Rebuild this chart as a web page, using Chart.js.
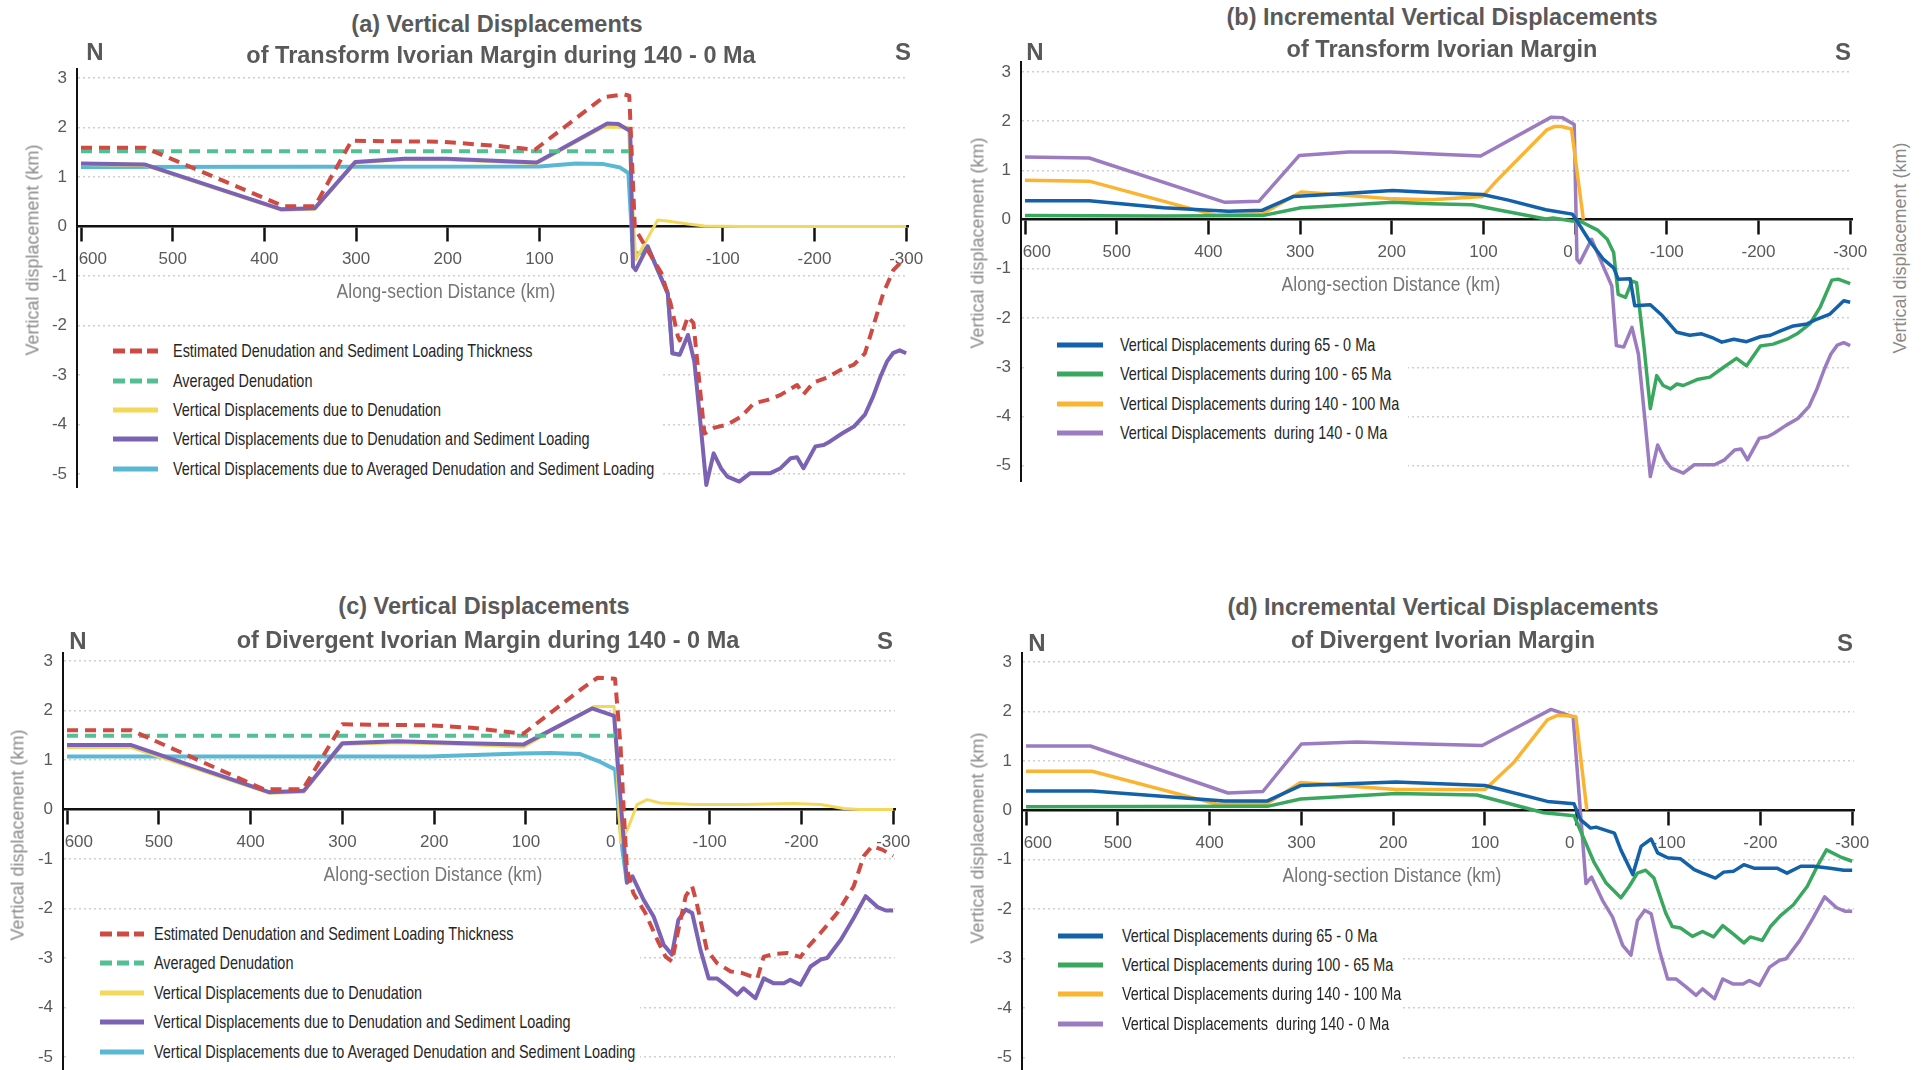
<!DOCTYPE html>
<html>
<head>
<meta charset="utf-8">
<script src="https://cdn.jsdelivr.net/npm/chart.js@4"></script>
<style>
  html, body { margin: 0; padding: 0; background: #fff; }
  #page { position: relative; width: 1923px; height: 1070px; overflow: hidden; background: #fff; }
  .plot { position: absolute; }
  .txt { position: absolute; transform: translate(-50%, -50%); white-space: pre; line-height: 1; }
  .title { font: bold 23.5px 'Liberation Sans', Arial, sans-serif; color: #595959; }
  .ns { font: bold 24px 'Liberation Sans', Arial, sans-serif; color: #595959; }
  .xtitle { font: 20px 'Liberation Sans', Arial, sans-serif; color: #767676; }
  .ytitle { font: 18px 'Liberation Sans', Arial, sans-serif; color: #8a8a8a; }
  .legbox { position: absolute; background: #fff; }
  .legline { position: absolute; height: 5px; transform: translateY(-50%); }
  .legtext { position: absolute; transform: translateY(-50%) scaleX(0.76); transform-origin: left center;
             white-space: pre; line-height: 1; font: 19px 'Liberation Sans', Arial, sans-serif; color: #262626; }
</style>
</head>
<body>
<div id="page"></div>
<script>
const TICK_FONT = "'Liberation Sans', Arial, sans-serif";

const xTicks = [600, 500, 400, 300, 200, 100, 0, -100, -200, -300];
const yTicks = [3, 2, 1, 0, -1, -2, -3, -4, -5];

const legendAC = [
  'Estimated Denudation and Sediment Loading Thickness',
  'Averaged Denudation',
  'Vertical Displacements due to Denudation',
  'Vertical Displacements due to Denudation and Sediment Loading',
  'Vertical Displacements due to Averaged Denudation and Sediment Loading'
];
const legendBD = [
  'Vertical Displacements during 65 - 0 Ma',
  'Vertical Displacements during 100 - 65 Ma',
  'Vertical Displacements during 140 - 100 Ma',
  'Vertical Displacements  during 140 - 0 Ma'
];

// (a) transform margin, [distance km, displacement km]
const tfThickness = [[600,1.59],[530,1.59],[379,0.41],[345,0.41],[305,1.73],[205,1.71],[142,1.62],[105,1.55],[30,2.61],[8,2.67],[2,2.64],[-4,0],[-7,-0.13],[-20,-0.54],[-33,-0.94],[-43,-1.55],[-51,-2.22],[-53,-2.3],[-62,-1.82],[-68,-1.95],[-80,-4.18],[-91,-4.06],[-105,-4.0],[-120,-3.84],[-134,-3.57],[-149,-3.5],[-163,-3.4],[-181,-3.2],[-188,-3.39],[-199,-3.15],[-214,-3.05],[-228,-2.9],[-243,-2.79],[-255,-2.56],[-264,-2.02],[-275,-1.35],[-286,-0.88],[-297,-0.67],[-300,-0.64]];
const tfAvgDenudation = [[600,1.52],[2,1.52]];
const tfDenudation = [[600,1.25],[530,1.23],[382,0.33],[345,0.35],[301,1.28],[247,1.35],[201,1.35],[142,1.3],[103,1.27],[30,2.01],[3,2.0],[-5,-0.67],[-29,0.13],[-43,0.1],[-62,0.05],[-80,0.01],[-120,0],[-300,0]];
const tfTotal = [[600,1.27],[530,1.25],[382,0.35],[345,0.37],[301,1.3],[247,1.37],[201,1.37],[142,1.32],[103,1.29],[26,2.08],[14,2.07],[1,1.93],[-2,-0.81],[-5,-0.88],[-18,-0.4],[-29,-0.88],[-40,-1.35],[-45,-2.56],[-53,-2.59],[-62,-2.19],[-69,-2.73],[-76,-4.04],[-82,-5.22],[-90,-4.58],[-98,-4.88],[-105,-5.05],[-118,-5.15],[-130,-4.98],[-141,-4.98],[-152,-4.98],[-163,-4.88],[-174,-4.68],[-181,-4.66],[-188,-4.88],[-201,-4.44],[-210,-4.41],[-217,-4.34],[-230,-4.18],[-243,-4.04],[-255,-3.8],[-264,-3.43],[-272,-3.03],[-279,-2.73],[-286,-2.55],[-293,-2.5],[-300,-2.56]];
const tfAvgLoading = [[600,1.2],[100,1.21],[60,1.27],[30,1.26],[12,1.19],[3,1.08],[-2,-0.54],[-11,-0.54],[-18,-0.4],[-29,-0.88],[-40,-1.35],[-45,-2.56],[-53,-2.59]];

// (b) transform margin increments
const tf65to0 = [[600,0.38],[530,0.38],[449,0.24],[399,0.19],[378,0.17],[341,0.19],[307,0.47],[261,0.52],[199,0.59],[157,0.55],[101,0.51],[74,0.4],[32,0.2],[3,0.11],[-2,-0.03],[-16,-0.44],[-31,-0.81],[-42,-0.98],[-47,-1.21],[-60,-1.2],[-65,-1.75],[-82,-1.73],[-95,-1.95],[-111,-2.29],[-125,-2.35],[-138,-2.32],[-151,-2.41],[-160,-2.49],[-173,-2.43],[-187,-2.48],[-202,-2.38],[-213,-2.35],[-224,-2.26],[-238,-2.16],[-253,-2.12],[-264,-2.02],[-278,-1.92],[-293,-1.65],[-300,-1.68]];
const tf100to65 = [[600,0.08],[449,0.07],[341,0.08],[299,0.24],[261,0.28],[199,0.35],[157,0.32],[112,0.3],[96,0.24],[32,0.01],[24,0.03],[3,-0.03],[-5,-0.03],[-25,-0.22],[-35,-0.4],[-42,-0.67],[-47,-1.52],[-55,-1.58],[-62,-1.25],[-67,-1.28],[-75,-2.56],[-82,-3.84],[-89,-3.17],[-96,-3.37],[-104,-3.44],[-111,-3.34],[-118,-3.37],[-133,-3.25],[-147,-3.2],[-162,-3.0],[-176,-2.82],[-187,-2.97],[-202,-2.57],[-216,-2.53],[-231,-2.43],[-242,-2.32],[-256,-2.12],[-267,-1.79],[-280,-1.23],[-287,-1.21],[-300,-1.3]];
const tf140to100 = [[600,0.8],[530,0.78],[399,0.12],[391,0.09],[341,0.12],[299,0.56],[261,0.51],[199,0.42],[157,0.4],[101,0.47],[86,0.78],[31,1.82],[22,1.89],[15,1.89],[4,1.84],[-9,0]];

// (c) divergent margin
const dvThickness = [[600,1.6],[530,1.6],[386,0.41],[343,0.41],[300,1.72],[206,1.7],[159,1.65],[103,1.53],[39,2.44],[22,2.66],[3,2.64],[-3,1.28],[-7,-0.2],[-10,-1.21],[-17,-1.69],[-30,-2.09],[-43,-2.63],[-52,-2.97],[-59,-3.07],[-66,-2.43],[-74,-1.75],[-81,-1.55],[-86,-1.89],[-97,-2.83],[-108,-3.1],[-123,-3.27],[-135,-3.3],[-152,-3.41],[-159,-2.97],[-170,-2.92],[-185,-2.9],[-199,-2.98],[-206,-2.8],[-221,-2.49],[-239,-2.09],[-257,-1.55],[-268,-0.94],[-277,-0.74],[-288,-0.81],[-300,-0.94]];
const dvAvgDenudation = [[600,1.49],[3,1.49]];
const dvDenudation = [[600,1.25],[530,1.25],[380,0.33],[342,0.35],[300,1.31],[240,1.35],[166,1.31],[103,1.26],[26,2.08],[4,2.08],[-3,-0.67],[-12,-0.34],[-21,0.1],[-32,0.2],[-46,0.13],[-83,0.1],[-137,0.1],[-192,0.12],[-221,0.1],[-246,0.02],[-264,0],[-300,0]];
const dvTotal = [[600,1.3],[530,1.3],[380,0.35],[342,0.38],[300,1.34],[240,1.38],[166,1.34],[103,1.31],[28,2.04],[4,1.89],[-10,-1.48],[-16,-1.35],[-28,-1.82],[-39,-2.16],[-50,-2.73],[-59,-2.93],[-66,-2.23],[-74,-2.02],[-81,-2.09],[-90,-2.83],[-99,-3.41],[-108,-3.41],[-119,-3.57],[-130,-3.74],[-137,-3.61],[-150,-3.81],[-159,-3.41],[-170,-3.51],[-181,-3.51],[-188,-3.44],[-199,-3.54],[-210,-3.17],[-221,-3.03],[-228,-3.0],[-243,-2.63],[-257,-2.19],[-270,-1.75],[-283,-1.97],[-292,-2.04],[-300,-2.04]];
const dvAvgLoading = [[600,1.07],[206,1.07],[106,1.13],[73,1.14],[41,1.12],[19,0.96],[3,0.81],[-5,-0.81],[-10,-1.48]];

// (d) divergent margin increments
const dv65to0 = [[600,0.39],[528,0.39],[384,0.19],[337,0.19],[301,0.5],[197,0.57],[100,0.5],[32,0.18],[3,0.13],[-4,-0.19],[-15,-0.36],[-21,-0.34],[-41,-0.46],[-48,-0.8],[-61,-1.3],[-70,-0.73],[-81,-0.58],[-88,-0.86],[-99,-0.96],[-113,-0.98],[-128,-1.2],[-137,-1.27],[-151,-1.37],[-160,-1.25],[-171,-1.23],[-182,-1.1],[-193,-1.17],[-218,-1.17],[-229,-1.27],[-244,-1.13],[-258,-1.13],[-276,-1.17],[-291,-1.21],[-300,-1.21]];
const dv100to65 = [[600,0.07],[337,0.08],[301,0.23],[197,0.34],[109,0.31],[36,-0.05],[3,-0.11],[-19,-1.06],[-32,-1.47],[-48,-1.77],[-57,-1.54],[-66,-1.27],[-75,-1.21],[-84,-1.37],[-97,-2.08],[-104,-2.35],[-113,-2.38],[-126,-2.55],[-137,-2.45],[-149,-2.56],[-159,-2.33],[-171,-2.51],[-182,-2.68],[-189,-2.56],[-202,-2.63],[-211,-2.35],[-222,-2.13],[-236,-1.91],[-251,-1.54],[-262,-1.13],[-272,-0.8],[-287,-0.94],[-300,-1.03]];
const dv140to100 = [[600,0.79],[528,0.79],[391,0.12],[337,0.14],[301,0.56],[197,0.42],[100,0.42],[69,0.96],[32,1.83],[21,1.92],[10,1.91],[1,1.89],[-11,0]];

const RED = '#cf4a43', TEAL = '#52c094', YELLOW = '#f2d95c', PURPLE = '#7c62b4', CYAN = '#5bb8d4';
const BLUE = '#1361a9', GREEN = '#3aa75f', ORANGE = '#fbb430', LILAC = '#9b7cc1';
const DASH = [11, 7];

function seriesAC(thick, avgDen, den, total, avgLoad) {
  return [
    { data: thick,   color: RED,    width: 4,   dash: DASH, order: 0 },
    { data: avgDen,  color: TEAL,   width: 4,   dash: DASH, order: 1 },
    { data: den,     color: YELLOW, width: 3,   order: 3 },
    { data: total,   color: PURPLE, width: 4,   order: 2 },
    { data: avgLoad, color: CYAN,   width: 4,   order: 4 }
  ];
}
function seriesBD(s65, s100, s140, total) {
  return [
    { data: s65,   color: BLUE,   width: 3.5, order: 0 },
    { data: s100,  color: GREEN,  width: 3.5, order: 1 },
    { data: s140,  color: ORANGE, width: 3.5, order: 2 },
    { data: total, color: LILAC,  width: 3.5, order: 3 }
  ];
}

const panels = [
  { axisX: 77, right: 908, top: 68, bottom: 488, yMax: 3.2, yMin: -5.28,
    title: ['(a) Vertical Displacements', 'of Transform Ivorian Margin during 140 - 0 Ma'], titlePos: [[497, 24], [501, 55]],
    n: [95, 52], s: [903, 52], xTitle: [446, 291], yTitle: [33, 250],
    legendNames: legendAC, legBox: [80, 333, 660, 487], legX: [113, 158, 173], legY: [351, 381, 410, 439, 469],
    series: seriesAC(tfThickness, tfAvgDenudation, tfDenudation, tfTotal, tfAvgLoading) },
  { axisX: 1021, right: 1852, top: 61, bottom: 482, yMax: 3.22, yMin: -5.33,
    title: ['(b) Incremental Vertical Displacements', 'of Transform Ivorian Margin'], titlePos: [[1442, 17], [1442, 49]],
    n: [1035, 52], s: [1843, 52], xTitle: [1391, 284], yTitle: [978, 243], yTitle2: [1900, 248],
    legendNames: legendBD, legBox: [1024, 328, 1408, 481], legX: [1057, 1103, 1120], legY: [345, 374, 404, 433],
    series: seriesBD(tf65to0, tf100to65, tf140to100, tfTotal) },
  { axisX: 63, right: 895, top: 652, bottom: 1070, yMax: 3.18, yMin: -5.26,
    title: ['(c) Vertical Displacements', 'of Divergent Ivorian Margin during 140 - 0 Ma'], titlePos: [[484, 606], [488, 640]],
    n: [78, 641], s: [885, 641], xTitle: [433, 874], yTitle: [18, 835],
    legendNames: legendAC, legBox: [66, 916, 640, 1070], legX: [100, 144, 154], legY: [934, 963, 993, 1022, 1052],
    series: seriesAC(dvThickness, dvAvgDenudation, dvDenudation, dvTotal, dvAvgLoading) },
  { axisX: 1022, right: 1854, top: 652, bottom: 1070, yMax: 3.2, yMin: -5.25,
    title: ['(d) Incremental Vertical Displacements', 'of Divergent Ivorian Margin'], titlePos: [[1443, 607], [1443, 640]],
    n: [1037, 643], s: [1845, 643], xTitle: [1392, 875], yTitle: [978, 838],
    legendNames: legendBD, legBox: [1025, 918, 1401, 1070], legX: [1058, 1103, 1122], legY: [936, 965, 994, 1024],
    series: seriesBD(dv65to0, dv100to65, dv140to100, dvTotal) }
];

const Y_AXIS_W = 45, PAD_RIGHT = 22;
const page = document.getElementById('page');

function addText(txt, cx, cy, cls, transform) {
  const d = document.createElement('div');
  d.className = 'txt ' + cls;
  d.textContent = txt;
  d.style.left = cx + 'px';
  d.style.top = cy + 'px';
  if (transform) d.style.transform = 'translate(-50%, -50%) ' + transform;
  page.appendChild(d);
}

// the outer labels sit a little off their ticks in the original
function xLabel(v) {
  if (v === 600) return '     600';
  if (v === 0) return '0   ';
  return String(v);
}

function makeOptions(p) {
  return {
    responsive: true,
    maintainAspectRatio: false,
    animation: false,
    layout: { padding: { right: PAD_RIGHT } },
    plugins: { legend: { display: false }, tooltip: { enabled: false } },
    scales: {
      x: {
        type: 'linear', reverse: true, min: -302, max: 604.4,
        position: { y: 0 },
        afterBuildTicks: s => { s.ticks = xTicks.map(v => ({ value: v })); },
        afterFit: s => { s.paddingLeft = 0; s.paddingRight = 0; },
        grid: { display: true, drawOnChartArea: false, drawTicks: true, tickLength: 14, tickColor: '#111', tickWidth: 2.5 },
        border: { display: true, color: '#111', width: 2.5 },
        ticks: { color: '#595959', font: { family: TICK_FONT, size: 17 }, padding: 9, maxRotation: 0, autoSkip: false,
                 callback: v => xLabel(v) }
      },
      y: {
        type: 'linear', min: p.yMin, max: p.yMax,
        afterBuildTicks: s => { s.ticks = yTicks.map(v => ({ value: v })); },
        afterFit: s => { s.width = Y_AXIS_W; s.paddingTop = 0; s.paddingBottom = 0; },
        grid: { color: c => (c.tick && c.tick.value === 0) ? 'rgba(0,0,0,0)' : '#cfcfcf', lineWidth: 1.5, drawTicks: false },
        border: { display: true, color: '#111', width: 2, dash: [2, 3] },
        ticks: { color: '#595959', font: { family: TICK_FONT, size: 17 }, padding: 10 }
      }
    }
  };
}

panels.forEach((p, i) => {
  const wrap = document.createElement('div');
  wrap.className = 'plot';
  wrap.style.left = (p.axisX - Y_AXIS_W) + 'px';
  wrap.style.top = p.top + 'px';
  wrap.style.width = (p.right - p.axisX + Y_AXIS_W + PAD_RIGHT) + 'px';
  wrap.style.height = (p.bottom - p.top) + 'px';
  const cv = document.createElement('canvas');
  cv.id = 'chart' + i;
  wrap.appendChild(cv);
  page.appendChild(wrap);

  const datasets = p.series.map((s, k) => ({
    label: p.legendNames[k],
    data: s.data.map(([x, y]) => ({ x, y })),
    borderColor: s.color,
    backgroundColor: s.color,
    borderWidth: s.width,
    borderDash: s.dash || [],
    borderJoinStyle: 'round',
    pointRadius: 0,
    tension: 0,
    fill: false,
    order: s.order
  }));
  new Chart(cv, { type: 'line', data: { datasets }, options: makeOptions(p) });

  // legend box (white, hides grid lines beneath it)
  const box = document.createElement('div');
  box.className = 'legbox';
  box.style.left = p.legBox[0] + 'px';
  box.style.top = p.legBox[1] + 'px';
  box.style.width = (p.legBox[2] - p.legBox[0]) + 'px';
  box.style.height = (p.legBox[3] - p.legBox[1]) + 'px';
  page.appendChild(box);

  p.series.forEach((s, k) => {
    const ln = document.createElement('div');
    ln.className = 'legline';
    ln.style.left = p.legX[0] + 'px';
    ln.style.top = p.legY[k] + 'px';
    ln.style.width = (p.legX[1] - p.legX[0]) + 'px';
    ln.style.background = s.dash
      ? `repeating-linear-gradient(90deg, ${s.color} 0 12px, transparent 12px 17px)`
      : s.color;
    page.appendChild(ln);
    const tx = document.createElement('div');
    tx.className = 'legtext';
    tx.textContent = p.legendNames[k];
    tx.style.left = p.legX[2] + 'px';
    tx.style.top = p.legY[k] + 'px';
    page.appendChild(tx);
  });

  addText(p.title[0], p.titlePos[0][0], p.titlePos[0][1], 'title');
  addText(p.title[1], p.titlePos[1][0], p.titlePos[1][1], 'title');
  addText('N', p.n[0], p.n[1], 'ns');
  addText('S', p.s[0], p.s[1], 'ns');
  addText('Along-section Distance (km)', p.xTitle[0], p.xTitle[1], 'xtitle', 'scaleX(0.875)');
  addText('Vertical displacement (km)', p.yTitle[0], p.yTitle[1], 'ytitle', 'rotate(-90deg)');
  if (p.yTitle2) addText('Vertical displacement (km)', p.yTitle2[0], p.yTitle2[1], 'ytitle', 'rotate(-90deg)');
});
</script>
</body>
</html>
